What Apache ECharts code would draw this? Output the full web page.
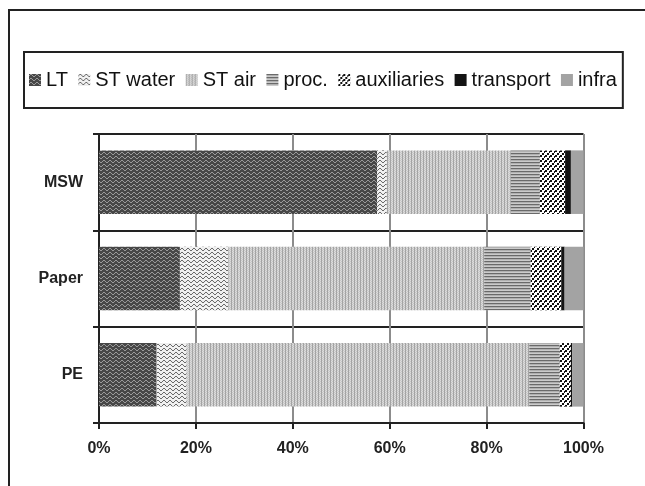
<!DOCTYPE html>
<html>
<head>
<meta charset="utf-8">
<script src="https://cdn.jsdelivr.net/npm/echarts@6/dist/echarts.min.js"></script>
<style>
html,body{margin:0;padding:0;background:#fff;}
#chart{width:645px;height:486px;}
</style>
</head>
<body>
<div id="chart"></div>
<script>
// ---- data (percent shares) ----
const categories = ['MSW', 'Paper', 'PE'];
const seriesNames = ['LT', 'ST water', 'ST air', 'proc.', 'auxiliaries', 'transport', 'infra'];
const LT = [57.4, 16.7, 11.9];
const STwater = [2.0, 10.0, 6.2];
const STair = [25.6, 52.8, 70.7];
const proc = [6.0, 9.6, 6.3];
const auxiliaries = [5.2, 6.3, 2.3];
const transport = [1.2, 0.7, 0.3];
const infra = [2.6, 3.9, 2.3];
const xTicks = [0, 20, 40, 60, 80, 100];

// ---- pattern helpers (styling only) ----
function tile(w, h, bg, draw) {
  const c = document.createElement('canvas');
  c.width = w; c.height = h;
  const g = c.getContext('2d');
  g.fillStyle = bg; g.fillRect(0, 0, w, h);
  draw(g);
  return { image: c, repeat: 'repeat' };
}
function px(g, col, pts) { g.fillStyle = col; pts.forEach(p => g.fillRect(p[0], p[1], p[2] || 1, p[3] || 1)); }

const patLT = tile(6, 4, '#474747', g => px(g, '#9a9a9a', [[0,1],[1,0],[2,0],[3,1],[4,2],[5,2]]));
const patSTw = tile(6, 4, '#f0f0f0', g => px(g, '#6a6a6a', [[0,1],[1,0],[2,0],[3,1],[4,2],[5,2]]));
const patSTair = tile(3, 2, '#dcdcdc', g => { px(g, '#a4a4a4', [[0,0],[0,1]]); px(g, '#c6c6c6', [[1,0],[2,1]]); });
const patProc = tile(1, 3, '#cbcbcb', g => { px(g, '#6a6a6a', [[0,0]]); px(g, '#b0b0b0', [[0,1]]); });
const patAux = tile(5, 5, '#ffffff', g => px(g, '#111111', [[0,0,2,2],[2,3,2,2],[4,1,1,2]]));

const colors = [patLT, patSTw, patSTair, patProc, patAux, '#141414', '#a3a3a3'];
const values = [LT, STwater, STair, proc, auxiliaries, transport, infra];

const chart = echarts.init(document.getElementById('chart'));
chart.setOption({
  animation: false,
  backgroundColor: '#ffffff',
  textStyle: { fontFamily: 'Liberation Sans, Arial, sans-serif' },
  graphic: [{
    type: 'rect', silent: true, z: -10,
    shape: { x: 9, y: 10, width: 700, height: 600 },
    style: { fill: null, stroke: '#222', lineWidth: 2 }
  }],
  legend: {
    left: 24, top: 52,
    icon: 'rect', itemWidth: 12, itemHeight: 12, itemGap: 10.4,
    borderColor: '#222', borderWidth: 2,
    padding: [18, 6, 18, 5],
    textStyle: { fontSize: 20, color: '#111', fontFamily: 'Liberation Sans, Arial, sans-serif' },
    data: seriesNames
  },
  grid: { left: 99, right: 61.5, top: 134, bottom: 63, containLabel: false },
  xAxis: {
    type: 'value', min: 0, max: 100, interval: 20,
    axisLine: { show: true, lineStyle: { color: '#222', width: 2 } },
    axisTick: { show: true, length: 6, lineStyle: { color: '#222', width: 2 } },
    axisLabel: {
      margin: 18, fontSize: 16, fontWeight: 'bold', color: '#222',
      formatter: v => xTicks.includes(v) ? v + '%' : ''
    },
    splitLine: { show: true, lineStyle: { color: '#8c8c8c', width: 2 } }
  },
  yAxis: {
    type: 'category', inverse: true, data: categories,
    axisLine: { show: true, lineStyle: { color: '#222', width: 2 } },
    axisTick: { show: true, length: 6, lineStyle: { color: '#222', width: 2 } },
    axisLabel: { margin: 16, fontSize: 16, fontWeight: 'bold', color: '#222' },
    splitLine: { show: true, lineStyle: { color: '#222', width: 2 } }
  },
  series: seriesNames.map((n, i) => ({
    name: n, type: 'bar', stack: 'total', barCategoryGap: '34%',
    itemStyle: { color: colors[i] },
    emphasis: { disabled: true },
    data: values[i]
  }))
});
</script>
</body>
</html>
